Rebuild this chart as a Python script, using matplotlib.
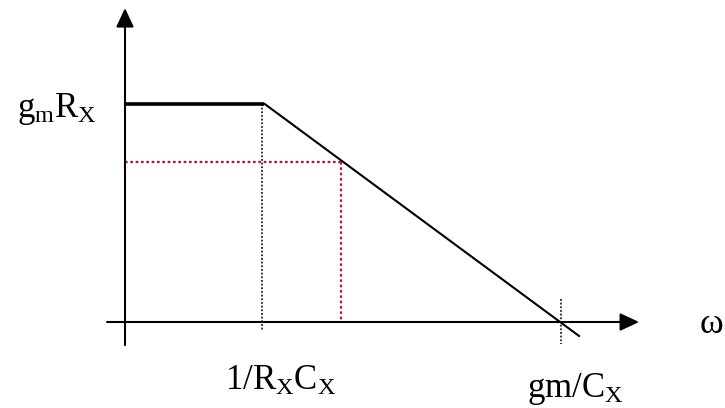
import matplotlib
matplotlib.use("Agg")
import matplotlib.pyplot as plt

plt.rcParams['font.family'] = ['Liberation Serif', 'DejaVu Serif']
plt.rcParams['mathtext.fontset'] = 'custom'
plt.rcParams['mathtext.rm'] = 'Liberation Serif'
plt.rcParams['mathtext.it'] = 'Liberation Serif:italic'

# Diagram values (frequency normalised to the corner 1/RxCx, gain to gmRx)
gain = 1.0
corner = 1.0
unity = 3.18            # gm/Cx
slope_end = [3.314, -0.064]
probe_x = 1.58          # red dotted point
probe_level = 0.735

x_axis = [-0.131, 3.752]
y_axis = [-0.106, 1.44]

gain_label = r'$\mathrm{g_mR_X}$'
corner_label = r'$\mathrm{1/R_XC_X}$'
unity_label = r'$\mathrm{gm/C_X}$'
axis_label = 'ω'

fig = plt.figure(figsize=(7.25, 4.08), dpi=100)
ax = fig.add_axes([0, 0, 1, 1])
ax.set_xlim(-0.9124, 4.3796)
ax.set_ylim(-0.3945, 1.4771)
ax.axis('off')

# axes with arrow heads
arrow = dict(arrowstyle='-|>,head_length=0.8,head_width=0.375', mutation_scale=14.4,
             lw=1.5, color='black', shrinkA=0, shrinkB=0)
ax.annotate('', xy=(x_axis[1], 0), xytext=(x_axis[0], 0), arrowprops=arrow)
ax.annotate('', xy=(0, y_axis[1]), xytext=(0, y_axis[0]), arrowprops=arrow)

# flat gain then roll-off
ax.plot([0, corner * 1.015], [gain, gain], color='black', lw=2.6, solid_capstyle='butt')
ax.plot([corner * 1.02, slope_end[0]], [gain, slope_end[1]], color='black', lw=1.5)

# dotted guides
dots = (0, (1.2, 1.2))
ax.plot([corner, corner], [gain, -0.041], color='black', lw=1.1, linestyle=dots)
ax.plot([unity, unity], [0.106, -0.101], color='black', lw=1.1, linestyle=dots)
ax.plot([0, probe_x], [probe_level, probe_level], color='#b8143c', lw=1.6, linestyle=dots)
ax.plot([probe_x, probe_x], [probe_level, 0], color='#b8143c', lw=1.6, linestyle=dots)

# labels
ax.text(-0.204, 0.94, gain_label, fontsize=25, ha='right', va='baseline')
ax.text(1.139, -0.312, corner_label, fontsize=25, ha='center', va='baseline')
ax.text(3.285, -0.344, unity_label, fontsize=25, ha='center', va='baseline')
ax.text(4.197, -0.05, axis_label, fontsize=26, ha='left', va='baseline')

fig.savefig('out.png', dpi=100)
